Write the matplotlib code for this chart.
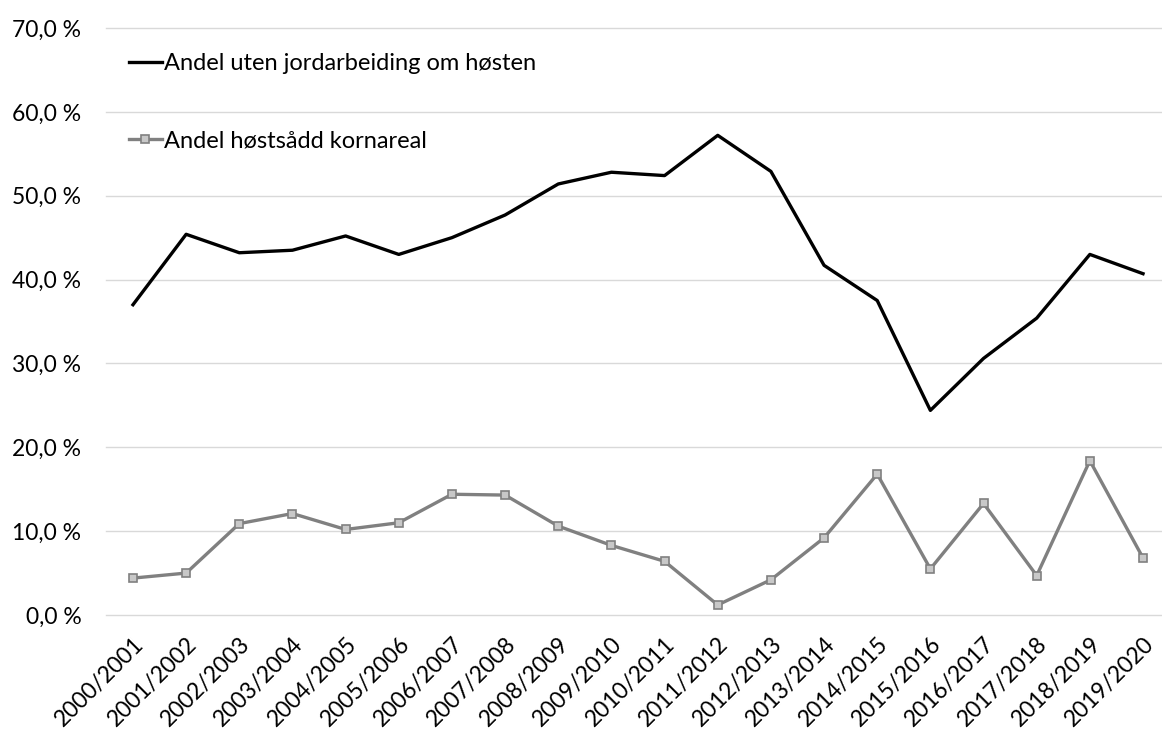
import matplotlib
matplotlib.use("Agg")
import matplotlib.pyplot as plt
from matplotlib.ticker import FuncFormatter

plt.rcParams['font.family'] = ['Lato', 'DejaVu Sans']

# Seasons on the category axis
seasons = ['2000/2001', '2001/2002', '2002/2003', '2003/2004', '2004/2005',
           '2005/2006', '2006/2007', '2007/2008', '2008/2009', '2009/2010',
           '2010/2011', '2011/2012', '2012/2013', '2013/2014', '2014/2015',
           '2015/2016', '2016/2017', '2017/2018', '2018/2019', '2019/2020']

# Share without autumn tillage (%)
uten_jordarbeiding = [37.0, 45.4, 43.2, 43.5, 45.2, 43.0, 45.0, 47.7, 51.4, 52.8,
                      52.4, 57.2, 52.9, 41.7, 37.5, 24.4, 30.6, 35.4, 43.0, 40.7]

# Share of autumn-sown cereal area (%)
hostsadd = [4.4, 5.0, 10.9, 12.1, 10.2, 11.0, 14.4, 14.3, 10.6, 8.3,
            6.4, 1.2, 4.2, 9.2, 16.8, 5.5, 13.3, 4.7, 18.4, 6.8]

yticks = [0, 10, 20, 30, 40, 50, 60, 70]

fig = plt.figure(figsize=(11.62, 7.31), dpi=100)
ax = fig.add_axes([106.4 / 1162, 1 - 615 / 731, 1063.2 / 1162, (615 - 28) / 731])

x = list(range(len(seasons)))
ax.plot(x, uten_jordarbeiding, color='black', lw=2.4,
        label='Andel uten jordarbeiding om høsten')
ax.plot(x, hostsadd, color='#808080', lw=2.4, marker='s', ms=6,
        mfc='#c8c8c8', mec='#808080', mew=1.2,
        label='Andel høstsådd kornareal')

ax.set_xlim(-0.5, len(seasons) - 0.5)
ax.set_ylim(0, 70)
ax.set_yticks(yticks)
ax.yaxis.set_major_formatter(FuncFormatter(lambda v, _: f'{v:.1f} %'.replace('.', ',')))
ax.set_xticks(x)
ax.set_xticklabels(seasons, rotation=45, ha='right', rotation_mode='anchor')
ax.tick_params(axis='both', length=0, labelsize=16.5)
ax.tick_params(axis='y', pad=18)
ax.tick_params(axis='x', pad=13)

ax.grid(axis='y', color='#d9d9d9', lw=1)
ax.grid(axis='x', visible=False)
for gl in ax.get_ygridlines():
    gl.set_clip_on(False)
ax.set_axisbelow(True)
for s in ax.spines.values():
    s.set_visible(False)

ax.legend(loc='upper left', bbox_to_anchor=(0.001, 0.994), frameon=False,
          fontsize=17, handlelength=1.4, handletextpad=0.1, labelspacing=2.4)

fig.savefig('out.png', dpi=100)
